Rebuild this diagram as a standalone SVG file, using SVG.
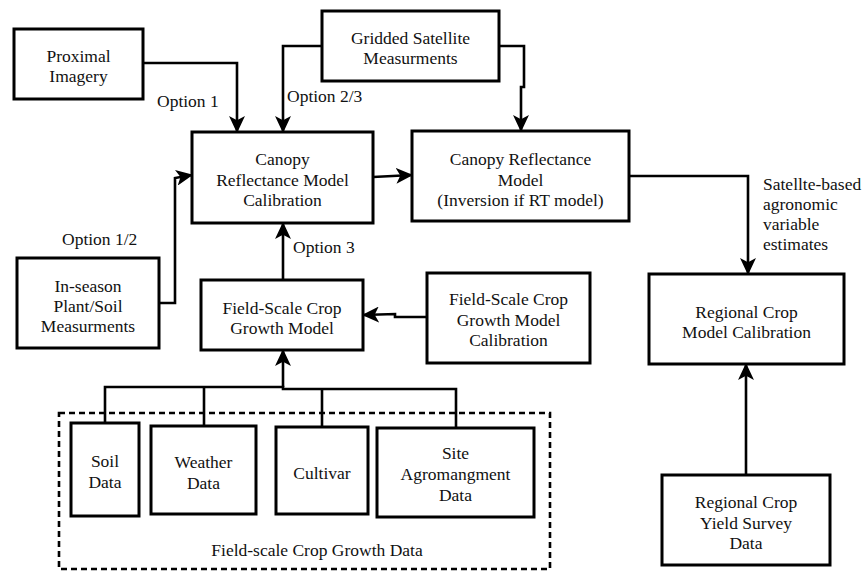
<svg xmlns="http://www.w3.org/2000/svg" width="867" height="572" viewBox="0 0 867 572">
<style>
text{font-family:'Liberation Serif','Times New Roman',serif;font-size:17.5px;fill:#111}
.t{text-anchor:middle}
.box{fill:#fff;stroke:#000;stroke-width:3}
.c{fill:none;stroke:#000;stroke-width:2.6}
.a{fill:none;stroke:#000;stroke-width:2.6;marker-end:url(#ah)}
.dash{fill:none;stroke:#000;stroke-width:2.6;stroke-dasharray:6 4}
</style>
<defs>
<marker id="ah" viewBox="0 0 16 15" refX="15" refY="7.5" markerWidth="17" markerHeight="16" markerUnits="userSpaceOnUse" orient="auto">
<path d="M0,0 L16,7.5 L0,15 L4,7.5 Z" fill="#000"/>
</marker>
</defs>
<rect width="867" height="572" fill="#fff"/>

<g id="connectors">
<polyline class="a" points="143,63 237,63 237,132"/>
<polyline class="a" points="322,46 283,46 283,132"/>
<polyline class="a" points="499,46 524,46 524,87 521,87 521,131"/>
<polyline class="a" points="373,177 412,175"/>
<polyline class="a" points="159,303 175,303 175,178 192,175"/>
<polyline class="a" points="283,280 283,223"/>
<polyline class="a" points="427,317 395,317 395,314 363,315"/>
<polyline class="a" points="629,176 748,176 748,274"/>
<polyline class="a" points="746,475 746,364"/>
<polyline class="a" points="283,387 283,350"/>
<polyline class="c" points="105,423 105,387 283,387 283,389 456,389 456,428"/>
<line class="c" x1="204" y1="387" x2="204" y2="426"/>
<line class="c" x1="322" y1="389" x2="322" y2="427"/>
</g>

<g id="label-option1"><text x="157" y="107">Option 1</text></g>
<g id="label-option23"><text x="287" y="102">Option 2/3</text></g>
<g id="label-option12"><text x="62" y="245">Option 1/2</text></g>
<g id="label-option3"><text x="293" y="253">Option 3</text></g>
<g id="label-satellite">
<text x="763" y="190">Satellte-based</text>
<text x="763" y="210">agronomic</text>
<text x="763" y="230">variable</text>
<text x="763" y="250">estimates</text>
</g>

<g id="proximal">
<rect class="box" x="14" y="29" width="129" height="70"/>
<text class="t" x="78.5" y="62">Proximal</text>
<text class="t" x="78.5" y="82">Imagery</text>
</g>

<g id="gridded">
<rect class="box" x="322" y="11" width="177" height="70"/>
<text class="t" x="410.5" y="44">Gridded Satellite</text>
<text class="t" x="410.5" y="64">Measurments</text>
</g>

<g id="calibration">
<rect class="box" x="192" y="132" width="181" height="91"/>
<text class="t" x="282.5" y="165">Canopy</text>
<text class="t" x="282.5" y="186">Reflectance Model</text>
<text class="t" x="282.5" y="206">Calibration</text>
</g>

<g id="canopy-rt">
<rect class="box" x="412" y="131" width="217" height="90"/>
<text class="t" x="520.5" y="165">Canopy Reflectance</text>
<text class="t" x="520.5" y="186">Model</text>
<text class="t" x="520.5" y="206">(Inversion if RT model)</text>
</g>

<g id="inseason">
<rect class="box" x="17" y="258" width="142" height="90"/>
<text class="t" x="88" y="292">In-season</text>
<text class="t" x="88" y="312">Plant/Soil</text>
<text class="t" x="88" y="332">Measurments</text>
</g>

<g id="field-model">
<rect class="box" x="201" y="280" width="162" height="70"/>
<text class="t" x="282" y="314">Field-Scale Crop</text>
<text class="t" x="282" y="334">Growth Model</text>
</g>

<g id="field-calibration">
<rect class="box" x="427" y="273" width="163" height="90"/>
<text class="t" x="508.5" y="305">Field-Scale Crop</text>
<text class="t" x="508.5" y="326">Growth Model</text>
<text class="t" x="508.5" y="346">Calibration</text>
</g>

<g id="regional-calibration">
<rect class="box" x="649" y="274" width="195" height="90"/>
<text class="t" x="746.5" y="318">Regional Crop</text>
<text class="t" x="746.5" y="338">Model Calibration</text>
</g>

<g id="regional-yield">
<rect class="box" x="662" y="475" width="168" height="90"/>
<text class="t" x="746" y="508">Regional Crop</text>
<text class="t" x="746" y="529">Yield Survey</text>
<text class="t" x="746" y="549">Data</text>
</g>

<g id="field-data-group">
<rect class="dash" x="59" y="413" width="491" height="156"/>
<text class="t" x="317" y="556">Field-scale Crop Growth Data</text>
</g>

<g id="soil">
<rect class="box" x="71" y="423" width="68" height="93"/>
<text class="t" x="105" y="467">Soil</text>
<text class="t" x="105" y="488">Data</text>
</g>

<g id="weather">
<rect class="box" x="151" y="426" width="105" height="88"/>
<text class="t" x="203.5" y="468">Weather</text>
<text class="t" x="203.5" y="489">Data</text>
</g>

<g id="cultivar">
<rect class="box" x="276" y="427" width="92" height="87"/>
<text class="t" x="322" y="479">Cultivar</text>
</g>

<g id="site">
<rect class="box" x="377" y="428" width="157" height="89"/>
<text class="t" x="455.5" y="459">Site</text>
<text class="t" x="455.5" y="480">Agromangment</text>
<text class="t" x="455.5" y="501">Data</text>
</g>
</svg>
